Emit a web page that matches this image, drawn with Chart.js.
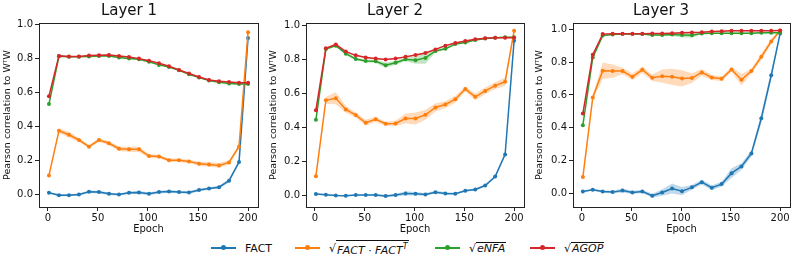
<!DOCTYPE html>
<html>
<head>
<meta charset="utf-8">
<script src="https://cdn.jsdelivr.net/npm/chart.js@4.4.1/dist/chart.umd.min.js"></script>
<style>
  html, body { margin: 0; padding: 0; background: #fff; }
  #wrap { position: relative; width: 797px; height: 258px; overflow: hidden; font-family: "DejaVu Sans", sans-serif; }
  .panel { position: absolute; top: 0; width: 265px; height: 238px; }
  #legend { position: absolute; top: 238px; left: 0; width: 797px; height: 20px; font-size: 11px; color: #111; }
  .item { position: absolute; top: 2px; height: 16px; display: flex; align-items: center; }
  .swatch { position: relative; width: 25px; height: 2px; margin-right: 9px; }
  .swatch i { position: absolute; left: 10px; top: -2px; width: 5px; height: 5px; border-radius: 50%; }
  .math { font-style: italic; }
  .rad { border-top: 1px solid #111; padding: 0 1px; line-height: 12px; }
  sup { font-size: 8px; }
</style>
</head>
<body>
<div id="wrap">
  <div class="panel" style="left:0px"><canvas id="c1" width="265" height="238"></canvas></div>
  <div class="panel" style="left:266px"><canvas id="c2" width="265" height="238"></canvas></div>
  <div class="panel" style="left:532px"><canvas id="c3" width="265" height="238"></canvas></div>
  <div id="legend">
    <div class="item" style="left:211px"><span class="swatch" style="background:#1f77b4"><i style="background:#1f77b4"></i></span>FACT</div>
    <div class="item" style="left:295px"><span class="swatch" style="background:#ff7f0e"><i style="background:#ff7f0e"></i></span>√<span class="rad math">FACT · FACT<sup>T</sup></span></div>
    <div class="item" style="left:435px"><span class="swatch" style="background:#2ca02c"><i style="background:#2ca02c"></i></span>√<span class="rad math">eNFA</span></div>
    <div class="item" style="left:530px"><span class="swatch" style="background:#d62728"><i style="background:#d62728"></i></span>√<span class="rad math">AGOP</span></div>
  </div>
</div>
<script>
// x values (epochs)
const epochs = [1, 11, 21, 31, 41, 51, 61, 71, 81, 91, 101, 111, 121, 131, 141, 151, 161, 171, 181, 191, 200];
const xTicks = [0, 50, 100, 150, 200];
const yTicks = [0, 0.2, 0.4, 0.6, 0.8, 1.0];
const layerTitles = ["Layer 1", "Layer 2", "Layer 3"];

// Layer 1
const l1Fact = [0.008, -0.006, -0.006, -0.002, 0.014, 0.012, 0.002, -0.002, 0.008, 0.010, 0.002, 0.012, 0.016, 0.012, 0.010, 0.024, 0.033, 0.041, 0.079, 0.189, 0.921];
const l1Outer = [0.110, 0.374, 0.350, 0.319, 0.280, 0.319, 0.300, 0.268, 0.264, 0.264, 0.224, 0.222, 0.200, 0.200, 0.193, 0.179, 0.175, 0.169, 0.187, 0.281, 0.955];
const l1Enfa = [0.531, 0.813, 0.810, 0.810, 0.812, 0.815, 0.815, 0.805, 0.800, 0.795, 0.780, 0.762, 0.750, 0.730, 0.707, 0.688, 0.670, 0.660, 0.652, 0.650, 0.650];
const l1Agop = [0.577, 0.815, 0.811, 0.811, 0.817, 0.819, 0.821, 0.815, 0.809, 0.799, 0.787, 0.772, 0.754, 0.732, 0.711, 0.691, 0.673, 0.665, 0.661, 0.657, 0.657];
const l1FactSd = [0.004, 0.006, 0.006, 0.006, 0.008, 0.008, 0.008, 0.006, 0.008, 0.010, 0.008, 0.008, 0.008, 0.008, 0.008, 0.008, 0.008, 0.008, 0.010, 0.012, 0.010];
const l1OuterSd = [0.004, 0.014, 0.018, 0.012, 0.010, 0.012, 0.012, 0.014, 0.016, 0.016, 0.012, 0.010, 0.010, 0.010, 0.010, 0.012, 0.014, 0.014, 0.012, 0.012, 0.008];
const l1EnfaSd = [0.003, 0.003, 0.003, 0.003, 0.003, 0.003, 0.003, 0.004, 0.004, 0.004, 0.004, 0.004, 0.003, 0.003, 0.003, 0.003, 0.003, 0.003, 0.003, 0.003, 0.003];
const l1AgopSd = [0.003, 0.003, 0.003, 0.003, 0.003, 0.003, 0.003, 0.003, 0.003, 0.003, 0.003, 0.003, 0.003, 0.003, 0.003, 0.003, 0.003, 0.003, 0.003, 0.003, 0.003];

// Layer 2
const l2Fact = [0.008, 0.004, 0.000, -0.002, 0.002, 0.002, 0.002, -0.004, 0.002, 0.012, 0.010, 0.006, 0.019, 0.012, 0.010, 0.027, 0.035, 0.058, 0.111, 0.241, 0.909];
const l2Outer = [0.113, 0.559, 0.571, 0.505, 0.472, 0.427, 0.447, 0.421, 0.423, 0.452, 0.452, 0.474, 0.517, 0.534, 0.565, 0.625, 0.579, 0.614, 0.645, 0.668, 0.967];
const l2Enfa = [0.445, 0.860, 0.880, 0.833, 0.802, 0.790, 0.788, 0.765, 0.779, 0.800, 0.794, 0.808, 0.849, 0.862, 0.889, 0.899, 0.913, 0.922, 0.926, 0.930, 0.930];
const l2Agop = [0.501, 0.864, 0.887, 0.845, 0.823, 0.810, 0.804, 0.798, 0.804, 0.814, 0.825, 0.837, 0.858, 0.880, 0.895, 0.907, 0.918, 0.924, 0.926, 0.926, 0.926];
const l2FactSd = [0.004, 0.004, 0.004, 0.004, 0.004, 0.004, 0.006, 0.006, 0.008, 0.012, 0.010, 0.008, 0.008, 0.008, 0.006, 0.006, 0.006, 0.006, 0.008, 0.010, 0.010];
const l2OuterSd = [0.004, 0.020, 0.035, 0.020, 0.015, 0.018, 0.015, 0.012, 0.015, 0.030, 0.035, 0.030, 0.025, 0.020, 0.020, 0.015, 0.020, 0.020, 0.020, 0.025, 0.008];
const l2EnfaSd = [0.004, 0.005, 0.006, 0.008, 0.008, 0.008, 0.010, 0.015, 0.012, 0.012, 0.020, 0.035, 0.010, 0.006, 0.005, 0.004, 0.004, 0.004, 0.003, 0.003, 0.003];
const l2AgopSd = [0.004, 0.004, 0.004, 0.004, 0.004, 0.004, 0.004, 0.004, 0.004, 0.004, 0.004, 0.004, 0.004, 0.004, 0.004, 0.003, 0.003, 0.003, 0.003, 0.003, 0.003];

// Layer 3
const l3Fact = [0.010, 0.020, 0.010, 0.006, 0.016, 0.004, 0.010, -0.016, 0.004, 0.028, 0.012, 0.035, 0.067, 0.033, 0.055, 0.122, 0.163, 0.242, 0.457, 0.720, 0.976];
const l3Outer = [0.098, 0.585, 0.748, 0.746, 0.746, 0.711, 0.754, 0.705, 0.715, 0.711, 0.701, 0.703, 0.738, 0.707, 0.699, 0.756, 0.693, 0.746, 0.833, 0.927, 0.994];
const l3Enfa = [0.415, 0.829, 0.963, 0.969, 0.972, 0.972, 0.972, 0.967, 0.967, 0.969, 0.967, 0.965, 0.976, 0.978, 0.978, 0.978, 0.978, 0.978, 0.980, 0.980, 0.980];
const l3Agop = [0.486, 0.846, 0.972, 0.974, 0.974, 0.974, 0.974, 0.976, 0.976, 0.978, 0.980, 0.982, 0.984, 0.988, 0.990, 0.992, 0.992, 0.992, 0.992, 0.992, 0.994];
const l3FactSd = [0.004, 0.006, 0.008, 0.008, 0.012, 0.010, 0.010, 0.012, 0.020, 0.030, 0.025, 0.015, 0.015, 0.015, 0.015, 0.030, 0.020, 0.020, 0.030, 0.030, 0.008];
const l3OuterSd = [0.004, 0.015, 0.050, 0.040, 0.020, 0.020, 0.020, 0.020, 0.040, 0.050, 0.050, 0.030, 0.020, 0.015, 0.015, 0.015, 0.035, 0.015, 0.020, 0.015, 0.004];
const l3EnfaSd = [0.005, 0.008, 0.006, 0.004, 0.004, 0.004, 0.004, 0.006, 0.006, 0.008, 0.015, 0.015, 0.004, 0.004, 0.004, 0.004, 0.004, 0.004, 0.004, 0.004, 0.004];
const l3AgopSd = [0.003, 0.004, 0.003, 0.003, 0.003, 0.003, 0.003, 0.003, 0.003, 0.003, 0.003, 0.003, 0.003, 0.003, 0.003, 0.003, 0.003, 0.003, 0.003, 0.003, 0.003];

const colors = ["#1f77b4", "#ff7f0e", "#2ca02c", "#d62728"];
const bands = ["rgba(31,119,180,0.28)", "rgba(255,127,14,0.28)", "rgba(44,160,44,0.28)", "rgba(214,39,40,0.28)"];

function pts(vals) {
  return vals.map((v, i) => ({ x: epochs[i], y: v }));
}

// draws the top and right spines too
const frame = {
  id: "frame",
  afterDraw(chart) {
    const a = chart.chartArea, ctx = chart.ctx;
    ctx.save();
    ctx.strokeStyle = "#222";
    ctx.lineWidth = 1;
    ctx.strokeRect(Math.round(a.left) + 0.5, Math.round(a.top) + 0.5, Math.round(a.right - a.left), Math.round(a.bottom - a.top));
    ctx.restore();
  }
};

function makeChart(id, title, yWidth, yMin, yMax, series, sds) {
  const datasets = [];
  series.forEach((vals, k) => {
    const sd = sds[k];
    datasets.push({
      data: pts(vals.map((v, i) => v + sd[i])),
      borderWidth: 0, pointRadius: 0, fill: false, order: 10 + k
    });
    datasets.push({
      data: pts(vals.map((v, i) => v - sd[i])),
      borderWidth: 0, pointRadius: 0, fill: "-1", backgroundColor: bands[k], order: 10 + k
    });
    datasets.push({
      data: pts(vals),
      borderColor: colors[k], backgroundColor: colors[k],
      borderWidth: 1.5, pointRadius: 2, pointBorderWidth: 0,
      fill: false, order: 4 - k
    });
  });

  new Chart(document.getElementById(id), {
    type: "line",
    data: { datasets: datasets },
    options: {
      responsive: false,
      animation: false,
      devicePixelRatio: 1,
      layout: { padding: { left: 0, right: 7, top: 0, bottom: 0 } },
      plugins: {
        legend: { display: false },
        tooltip: { enabled: false },
        title: {
          display: true, text: title, color: "#111",
          font: { family: "DejaVu Sans", size: 15, weight: "normal" },
          padding: { top: 2, bottom: 3 }
        }
      },
      scales: {
        x: {
          type: "linear", min: -8.95, max: 209.95,
          afterBuildTicks: s => { s.ticks = xTicks.map(v => ({ value: v })); },
          afterFit: s => { s.height = 31; s.paddingLeft = 0; s.paddingRight = 0; },
          grid: { display: true, drawOnChartArea: false, drawTicks: true, tickLength: 4, color: "#222" },
          border: { display: true, color: "#222", width: 1 },
          ticks: { color: "#111", padding: 1, maxRotation: 0, font: { family: "DejaVu Sans", size: 10 } },
          title: { display: true, text: "Epoch", color: "#111", padding: { top: 0, bottom: 3 }, font: { family: "DejaVu Sans", size: 10 } }
        },
        y: {
          type: "linear", min: yMin, max: yMax,
          afterBuildTicks: s => { s.ticks = yTicks.map(v => ({ value: v })); },
          afterFit: s => { s.width = yWidth; s.paddingTop = 0; s.paddingBottom = 0; },
          grid: { display: true, drawOnChartArea: false, drawTicks: true, tickLength: 4, color: "#222" },
          border: { display: true, color: "#222", width: 1 },
          ticks: { color: "#111", padding: 2, callback: v => v.toFixed(1), font: { family: "DejaVu Sans", size: 10 } },
          title: { display: true, text: "Pearson correlation to WᵀW", color: "#111", padding: { top: 2, bottom: 0 }, font: { family: "DejaVu Sans", size: 9.5 } }
        }
      }
    },
    plugins: [frame]
  });
}

makeChart("c1", layerTitles[0], 39, -0.076, 1.009,
  [l1Fact, l1Outer, l1Enfa, l1Agop], [l1FactSd, l1OuterSd, l1EnfaSd, l1AgopSd]);
makeChart("c2", layerTitles[1], 40, -0.068, 1.013,
  [l2Fact, l2Outer, l2Enfa, l2Agop], [l2FactSd, l2OuterSd, l2EnfaSd, l2AgopSd]);
makeChart("c3", layerTitles[2], 41, -0.085, 1.04,
  [l3Fact, l3Outer, l3Enfa, l3Agop], [l3FactSd, l3OuterSd, l3EnfaSd, l3AgopSd]);
</script>
</body>
</html>
